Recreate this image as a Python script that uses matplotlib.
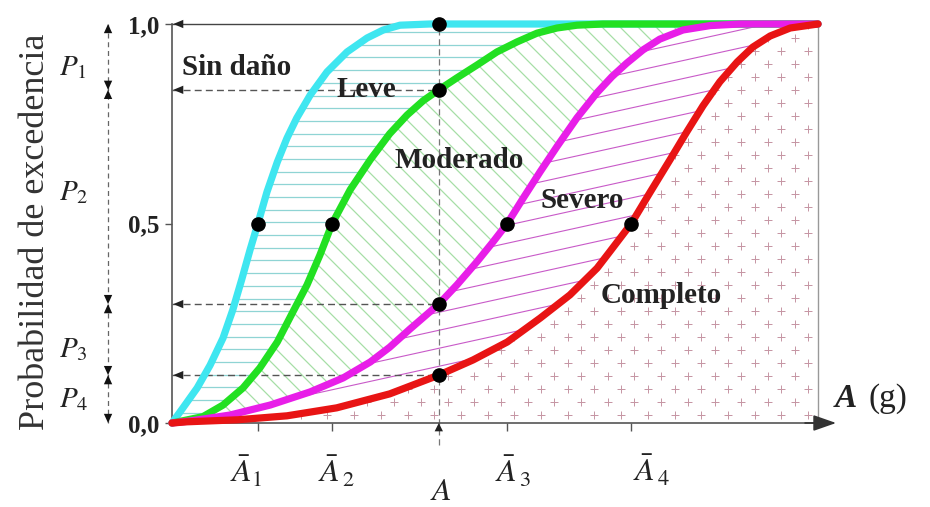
import numpy as np
import matplotlib
matplotlib.use('Agg')
import matplotlib.pyplot as plt
from matplotlib.patches import Polygon
from matplotlib.collections import LineCollection

plt.rcParams['font.family'] = 'Liberation Serif'
plt.rcParams['mathtext.fontset'] = 'stix'

# Fragility curves (x normalised to the plotted range)
sin_dano_x = [0, 0.017, 0.039, 0.059, 0.079, 0.094, 0.108, 0.121, 0.133, 0.147, 0.163,
              0.178, 0.193, 0.214, 0.240, 0.271, 0.302, 0.327, 0.353, 0.399, 1.0]
sin_dano_y = [0, 0.038, 0.088, 0.145, 0.213, 0.283, 0.360, 0.435, 0.5, 0.579, 0.654,
              0.714, 0.764, 0.822, 0.880, 0.930, 0.965, 0.985, 0.997, 1.0, 1.0]

leve_x = [0, 0.012, 0.048, 0.079, 0.110, 0.136, 0.163, 0.187, 0.209, 0.229, 0.248, 0.276,
          0.307, 0.337, 0.364, 0.389, 0.413, 0.441, 0.472, 0.503, 0.534, 0.565, 0.596,
          0.627, 0.667, 1.0]
leve_y = [0, 0.004, 0.016, 0.045, 0.088, 0.138, 0.203, 0.278, 0.346, 0.421, 0.5, 0.585,
          0.660, 0.725, 0.772, 0.808, 0.835, 0.865, 0.897, 0.930, 0.955, 0.977, 0.990,
          0.997, 1.0, 1.0]

moderado_x = [0, 0.028, 0.090, 0.152, 0.214, 0.265, 0.307, 0.337, 0.368, 0.413, 0.441,
              0.472, 0.497, 0.519, 0.543, 0.570, 0.596, 0.627, 0.658, 0.681, 0.704,
              0.729, 0.755, 0.791, 0.833, 0.879, 1.0]
moderado_y = [0, 0.005, 0.020, 0.045, 0.078, 0.113, 0.153, 0.190, 0.235, 0.298, 0.346,
              0.404, 0.454, 0.5, 0.562, 0.630, 0.693, 0.765, 0.828, 0.868, 0.902,
              0.935, 0.962, 0.985, 0.996, 1.0, 1.0]

severo_x = [0, 0.023, 0.101, 0.178, 0.255, 0.337, 0.413, 0.466, 0.519, 0.570, 0.616,
            0.658, 0.678, 0.711, 0.740, 0.771, 0.797, 0.822, 0.848, 0.875, 0.899,
            0.926, 0.957, 1.0]
severo_y = [0, 0.003, 0.008, 0.018, 0.038, 0.073, 0.120, 0.158, 0.203, 0.263, 0.321,
            0.388, 0.430, 0.5, 0.578, 0.660, 0.730, 0.795, 0.855, 0.905, 0.942,
            0.970, 0.990, 1.0]

medians = [0.133, 0.248, 0.519, 0.711]       # A1..A4 (P = 0.5)
a_value = 0.413                              # intensity A
p_at_a = [1.0, 0.835, 0.298, 0.12]           # exceedance probabilities at A
y_ticks = [0, 0.5, 1.0]
y_tick_labels = ['0,0', '0,5', '1,0']

PX, PY = 646, 399   # pixels per unit on x and y

fig = plt.figure(figsize=(9.3, 5.07), dpi=100)
ax = fig.add_axes([172 / 930, 84 / 507, 646 / 930, 399 / 507])
ax.set_xlim(0, 1)
ax.set_ylim(0, 1)


def region(ux, uy, lx, ly):
    verts = list(zip(ux, uy)) + list(zip(lx[::-1], ly[::-1]))
    p = Polygon(verts, closed=True, fc='none', ec='none')
    ax.add_patch(p)
    return p


# hatched bands between curves
r1 = region(sin_dano_x, sin_dano_y, leve_x, leve_y)
segs = [[(0, y), (1, y)] for y in np.arange(0.471 % 0.0318, 1.0, 0.0318)]
lc = LineCollection(segs, colors='#8fd4d4', lw=0.9, zorder=1)
ax.add_collection(lc)
lc.set_clip_path(r1)

r2 = region(leve_x, leve_y, moderado_x, moderado_y)
segs = [[(0, c / PY), (1, (c - PX) / PY)] for c in np.arange(-20, PX + PY + 20, 18)]
lc = LineCollection(segs, colors='#a6dea6', lw=0.9, zorder=1)
ax.add_collection(lc)
lc.set_clip_path(r2)

r3 = region(moderado_x, moderado_y, severo_x, severo_y)
segs = [[(0, c / PY), (1, (c + 0.22 * PX) / PY)] for c in np.arange(-200, 420, 18)]
lc = LineCollection(segs, colors='#c85ac8', lw=0.8, zorder=1)
ax.add_collection(lc)
lc.set_clip_path(r3)

r4 = region(severo_x, severo_y, [0, 1], [0, 0])
px_list, py_list = [], []
for k in range(32):
    off = 0 if k % 2 == 0 else 13.35
    for j in range(26):
        xp = 636 - off - 26.7 * j
        if xp < 0:
            break
        px_list.append(xp / PX)
        py_list.append((8 + 13 * k) / PY)
sc = ax.scatter(px_list, py_list, marker='+', s=32, c='#a05068', linewidths=0.7,
                alpha=0.6, zorder=1)
sc.set_clip_path(r4)

# guide lines
dash = (0, (5, 3))
ax.plot([a_value, a_value], [-0.055, 1.0], ls=dash, color='#777777', lw=0.9,
        clip_on=False, zorder=2)
ax.annotate('', xy=(a_value, 0), xytext=(a_value, -0.035), annotation_clip=False,
            arrowprops=dict(arrowstyle='-|>,head_length=0.5,head_width=0.25',
                            color='#222222', lw=0, mutation_scale=12, shrinkA=0, shrinkB=0))
for i, p in enumerate(p_at_a):
    ax.plot([0, a_value], [p, p], ls='-' if i == 0 else dash,
            color='#444444' if i == 0 else '#555555', lw=1.0, clip_on=False, zorder=2)
    ax.annotate('', xy=(0.002, p), xytext=(0.03, p), annotation_clip=False,
                arrowprops=dict(arrowstyle='-|>,head_length=0.6,head_width=0.25',
                                color='#222222', lw=0, mutation_scale=12,
                                shrinkA=0, shrinkB=0))

# P bands on the left
xl = -0.099
levels = p_at_a + [0.0]
ax.plot([xl, xl], [0, 1], ls=(0, (4, 3)), color='#666666', lw=0.9, clip_on=False)
for top, bot in zip(levels[:-1], levels[1:]):
    for tip, src in ((top, top - 0.03), (bot, bot + 0.03)):
        ax.annotate('', xy=(xl, tip), xytext=(xl, src), annotation_clip=False,
                    arrowprops=dict(arrowstyle='-|>,head_length=0.55,head_width=0.25',
                                    color='#111111', lw=0, mutation_scale=12,
                                    shrinkA=0, shrinkB=0))
p_labels = [r'$P_{\mathit{1}}$', r'$P_{\mathit{2}}$', r'$P_{\mathit{3}}$', r'$P_{\mathit{4}}$']
p_label_y = [0.872, 0.559, 0.165, 0.040]
for lab, yy in zip(p_labels, p_label_y):
    ax.text(-0.175, yy, lab, fontsize=21, ha='left', va='baseline', color='#222222')

# curves and points
curve_colors = ['#3fe6f0', '#22e022', '#e81ee8', '#e81414']
for cx, cy, col in zip([sin_dano_x, leve_x, moderado_x, severo_x],
                       [sin_dano_y, leve_y, moderado_y, severo_y], curve_colors):
    ax.plot(cx, cy, color=col, lw=5.2, solid_capstyle='round', solid_joinstyle='round',
            clip_on=False, zorder=3)
ax.plot(medians, [0.5] * len(medians), 'o', color='k', ms=9.5, zorder=5, clip_on=False)
ax.plot([a_value] * len(p_at_a), p_at_a, 'o', color='k', ms=9.5, zorder=5, clip_on=False)

# axes
for s in ['top', 'right']:
    ax.spines[s].set_visible(False)
for s in ['left', 'bottom']:
    ax.spines[s].set_color('#555555')
    ax.spines[s].set_linewidth(1.2)
ax.plot([1, 1], [0, 1], color='#999999', lw=1.0, clip_on=False, zorder=2)
ax.annotate('', xy=(1.028, 0), xytext=(0.98, 0), annotation_clip=False,
            arrowprops=dict(arrowstyle='-|>,head_length=1.0,head_width=0.35',
                            color='#333333', lw=1.2, mutation_scale=14,
                            shrinkA=0, shrinkB=0))
ax.set_yticks(y_ticks)
ax.set_yticklabels(y_tick_labels, fontweight='bold', fontsize=18, color='#222222')
ax.tick_params(axis='y', length=5, width=1, color='#555555', pad=4)
ax.set_xticks(medians)
ax.set_xticklabels([''] * len(medians))
ax.tick_params(axis='x', length=6, width=1, color='#555555')

x_labels = [r'$\bar{A}_{\mathit{1}}$', r'$\bar{A}_{\,\mathit{2}}$', r'$A$',
            r'$\bar{A}_{\,\mathit{3}}$', r'$\bar{A}_{\,\mathit{4}}$']
x_label_pos = [(0.090, -0.150), (0.226, -0.150), (0.399, -0.192),
               (0.500, -0.150), (0.714, -0.148)]
for lab, (xx, yy) in zip(x_labels, x_label_pos):
    ax.text(xx, yy, lab, fontsize=23, ha='left', va='baseline', color='#222222')

ax.text(1.026, 0.04, 'A', fontsize=24, fontweight='bold', fontstyle='italic',
        ha='left', va='baseline', color='#222222')
ax.text(1.078, 0.04, '(g)', fontsize=24, ha='left', va='baseline', color='#222222')

# damage state labels
state_labels = ['Sin daño', 'Leve', 'Moderado', 'Severo', 'Completo']
state_pos = [(0.015, 0.872), (0.255, 0.817), (0.344, 0.639), (0.570, 0.539), (0.664, 0.301)]
for lab, (xx, yy) in zip(state_labels, state_pos):
    ax.text(xx, yy, lab, fontsize=21, fontweight='bold', ha='left', va='baseline',
            color='#222222', zorder=6)

fig.text(35 / 930, 1 - 232 / 507, 'Probabilidad de excedencia', rotation=90,
         fontsize=26, ha='center', va='center', color='#333333')

fig.savefig('out.png', dpi=100)
